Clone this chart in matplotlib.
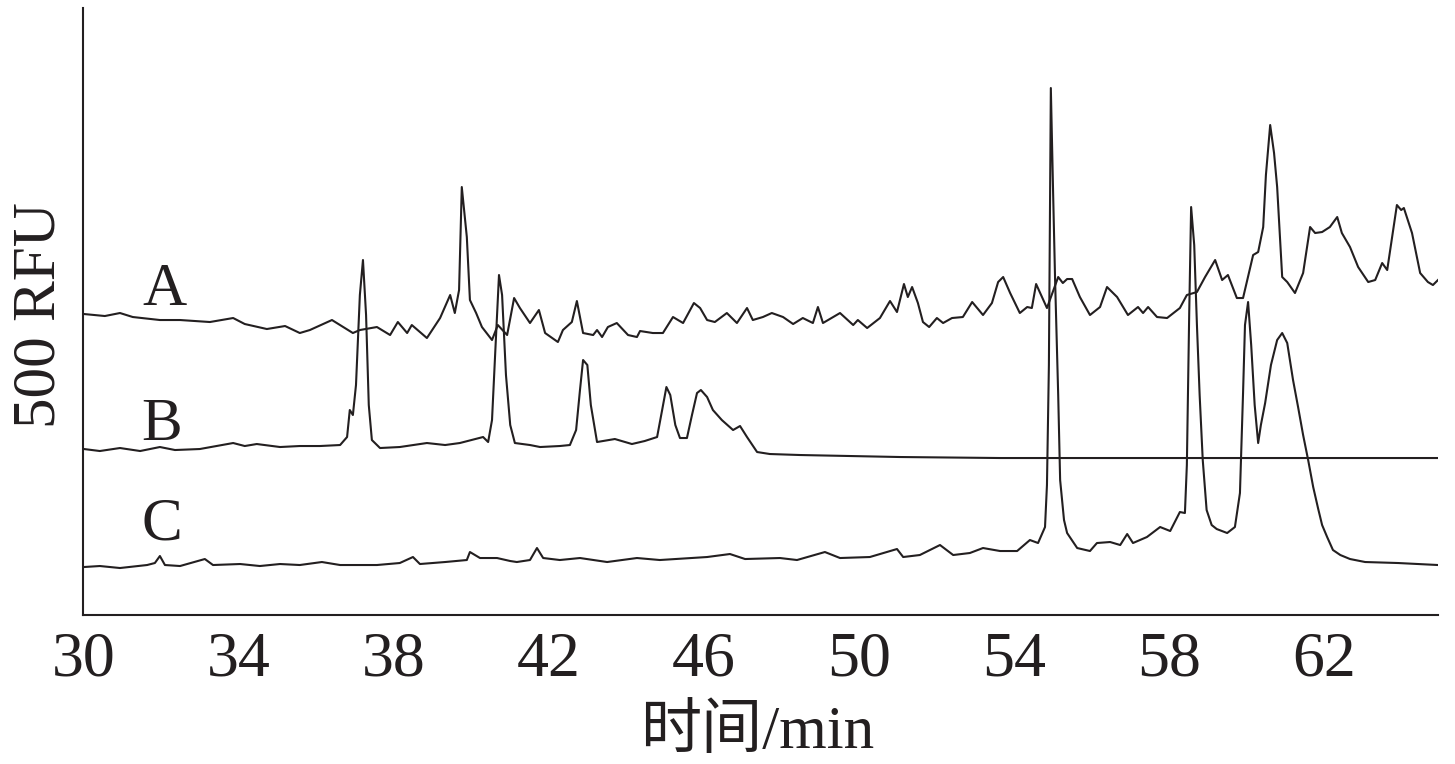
import matplotlib
matplotlib.use('Agg')
import matplotlib.pyplot as plt

# retention time (min) and signal (arbitrary RFU)
time_a = [30.00, 30.54, 30.93, 31.26, 31.96, 32.48, 33.25, 33.85, 34.15, 34.72,
          35.19, 35.57, 35.83, 36.40, 36.94, 37.12, 37.56, 37.90, 38.10, 38.34,
          38.46, 38.85, 39.19, 39.45, 39.57, 39.68, 39.75, 39.88, 39.96, 40.12,
          40.27, 40.53, 40.68, 40.92, 41.10, 41.25, 41.51, 41.74, 41.90, 42.23,
          42.36, 42.59, 42.72, 42.88, 43.14, 43.24, 43.37, 43.52, 43.75, 44.04,
          44.27, 44.35, 44.68, 44.94, 45.20, 45.46, 45.74, 45.90, 46.08, 46.28,
          46.59, 46.85, 47.11, 47.26, 47.52, 47.75, 48.04, 48.30, 48.55, 48.81,
          48.94, 49.07, 49.51, 49.85, 49.97, 50.21, 50.54, 50.80, 50.98, 51.16,
          51.26, 51.37, 51.52, 51.65, 51.81, 52.01, 52.17, 52.40, 52.68, 52.92,
          53.20, 53.43, 53.59, 53.72, 53.90, 54.15, 54.34, 54.46, 54.57, 54.85,
          55.14, 55.26, 55.37, 55.50, 55.70, 55.96, 56.22, 56.40, 56.66, 56.94,
          57.20, 57.33, 57.46, 57.69, 57.95, 58.28, 58.46, 58.72, 58.93, 59.19,
          59.37, 59.52, 59.75, 59.91, 60.17, 60.30, 60.43, 60.50, 60.61, 60.71,
          60.79, 60.92, 61.05, 61.25, 61.46, 61.64, 61.77, 61.95, 62.15, 62.34,
          62.46, 62.67, 62.88, 63.14, 63.32, 63.50, 63.63, 63.88, 63.99, 64.06,
          64.27, 64.48, 64.68, 64.81, 64.94]
signal_a = [301, 299, 302, 298, 295, 295, 293, 297, 291, 286,
            289, 282, 285, 295, 282, 285, 288, 280, 293, 282,
            290, 277, 297, 320, 302, 325, 428, 378, 315, 302,
            288, 275, 290, 280, 317, 307, 292, 305, 282, 273,
            285, 293, 314, 282, 280, 285, 278, 288, 292, 280,
            278, 284, 282, 282, 298, 292, 312, 307, 295, 293,
            302, 292, 307, 295, 298, 302, 298, 291, 297, 292,
            308, 292, 302, 290, 295, 287, 297, 314, 303, 331,
            318, 328, 312, 293, 288, 297, 292, 297, 298, 313,
            300, 312, 333, 338, 322, 302, 308, 307, 331, 307,
            338, 332, 336, 336, 318, 300, 308, 328, 318, 300,
            308, 302, 308, 298, 297, 307, 320, 323, 338, 355,
            335, 340, 317, 317, 360, 363, 388, 440, 490, 462,
            428, 338, 333, 322, 342, 388, 382, 383, 388, 398,
            382, 368, 348, 333, 335, 352, 345, 410, 405, 407,
            382, 342, 333, 330, 335]

time_b = [30.00, 30.41, 30.93, 31.45, 31.96, 32.35, 32.99, 33.85, 34.15, 34.46,
          35.06, 35.57, 36.09, 36.61, 36.79, 36.86, 36.94, 37.02, 37.12, 37.20,
          37.28, 37.35, 37.43, 37.64, 38.15, 38.85, 39.32, 39.70, 40.30, 40.43,
          40.53, 40.61, 40.71, 40.79, 40.89, 41.00, 41.12, 41.51, 41.77, 42.28,
          42.54, 42.70, 42.80, 42.88, 42.99, 43.08, 43.24, 43.70, 44.14, 44.47,
          44.79, 44.92, 45.03, 45.13, 45.26, 45.38, 45.56, 45.69, 45.82, 45.92,
          46.08, 46.23, 46.46, 46.75, 46.93, 47.11, 47.37, 47.70, 48.48, 49.77,
          51.06, 53.64, 56.22, 64.94]
signal_b = [166, 164, 167, 164, 168, 165, 166, 172, 169, 171,
            168, 169, 169, 170, 178, 205, 200, 230, 320, 355,
            300, 210, 175, 167, 168, 172, 170, 172, 178, 173,
            195, 260, 340, 320, 240, 190, 172, 170, 168, 169,
            170, 185, 225, 255, 250, 210, 173, 176, 171, 174,
            178, 205, 228, 220, 190, 177, 177, 200, 222, 225,
            218, 205, 195, 185, 189, 178, 163, 161, 160, 159,
            158, 157, 157, 157]

time_c = [30.00, 30.41, 30.93, 31.63, 31.83, 31.96, 32.09, 32.48, 33.12, 33.33,
          34.03, 34.54, 35.06, 35.57, 36.14, 36.61, 37.56, 38.15, 38.49, 38.67,
          39.32, 39.88, 39.96, 40.22, 40.66, 41.00, 41.17, 41.51, 41.69, 41.85,
          42.28, 42.80, 43.50, 44.27, 44.86, 46.08, 46.67, 47.06, 47.96, 48.40,
          49.12, 49.51, 50.28, 50.98, 51.14, 51.57, 52.09, 52.43, 52.86, 53.20,
          53.64, 54.08, 54.41, 54.62, 54.80, 54.85, 54.90, 54.95, 55.01, 55.06,
          55.14, 55.19, 55.29, 55.37, 55.63, 55.96, 56.14, 56.48, 56.74, 56.92,
          57.07, 57.43, 57.77, 58.03, 58.28, 58.41, 58.46, 58.52, 58.57, 58.65,
          58.72, 58.79, 58.87, 58.97, 59.10, 59.23, 59.50, 59.70, 59.83, 59.91,
          59.96, 60.04, 60.12, 60.21, 60.30, 60.37, 60.48, 60.63, 60.79, 60.92,
          61.05, 61.20, 61.33, 61.46, 61.59, 61.72, 61.85, 61.95, 62.08, 62.23,
          62.42, 62.67, 63.06, 63.91, 64.94]
signal_c = [48, 49, 47, 50, 52, 59, 50, 49, 56, 50,
            51, 49, 51, 50, 53, 50, 50, 52, 58, 51,
            53, 55, 63, 57, 57, 54, 53, 55, 67, 57,
            55, 57, 53, 57, 55, 58, 61, 56, 57, 55,
            63, 57, 58, 66, 58, 60, 70, 60, 62, 67,
            64, 64, 75, 72, 88, 130, 250, 527, 420, 335,
            220, 135, 95, 82, 67, 64, 72, 73, 70, 81,
            72, 78, 88, 84, 103, 102, 150, 300, 408, 370,
            290, 220, 155, 105, 90, 86, 82, 88, 122, 222,
            290, 313, 270, 210, 172, 190, 212, 250, 275, 282,
            272, 235, 208, 180, 155, 128, 106, 90, 78, 65,
            60, 56, 53, 52, 50]

trace_labels = ['A', 'B', 'C']
label_time = [32.09, 32.01, 32.01]
label_signal = [325, 190, 90]

xticks = [30, 34, 38, 42, 46, 50, 54, 58, 62]

ink = '#231f20'
serif = ['Liberation Serif', 'DejaVu Serif']

fig = plt.figure(figsize=(14.55, 7.64), dpi=100)
ax = fig.add_axes([0.0570, 0.1950, 0.9313, 0.7945])

ax.plot(time_a, signal_a, color=ink, lw=1.5)
ax.plot(time_b, signal_b, color=ink, lw=1.5)
ax.plot(time_c, signal_c, color=ink, lw=1.5)

for lab, tx, sy in zip(trace_labels, label_time, label_signal):
    ax.text(tx, sy, lab, ha='center', va='center', fontsize=44,
            family=serif, color=ink)

ax.spines['top'].set_visible(False)
ax.spines['right'].set_visible(False)
ax.spines['left'].set_color(ink)
ax.spines['bottom'].set_color(ink)
ax.spines['left'].set_linewidth(1.5)
ax.spines['bottom'].set_linewidth(1.5)

ax.set_xlim(29.974, 64.94)
ax.set_ylim(0, 607)
ax.set_yticks([])
ax.set_xticks(xticks)
ax.set_xticklabels([str(t) for t in xticks], family=serif, fontsize=46, color=ink)
ax.tick_params(axis='x', length=0, pad=12)

fig.text(40 / 1455, 1 - 315 / 764, '500 RFU', rotation=90, ha='center',
         va='center', fontsize=44, family=serif, color=ink)
fig.text(757 / 1455, 1 - 733 / 764, '时间/min', ha='center', va='center',
         fontsize=44, family=['Liberation Serif', 'Noto Sans CJK SC'], color=ink)

plt.savefig('out.png', dpi=100)
